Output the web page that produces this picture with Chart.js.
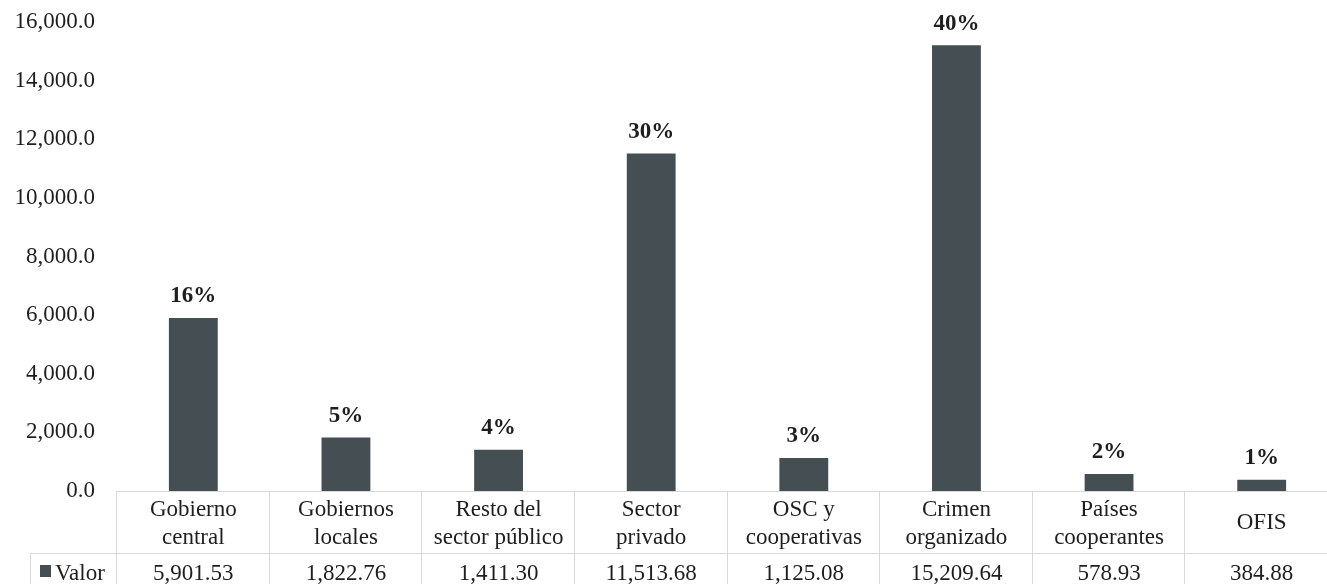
<!DOCTYPE html>
<html>
<head>
<meta charset="utf-8">
<script src="https://cdn.jsdelivr.net/npm/chart.js@4"></script>
<style>
  html, body { margin: 0; padding: 0; overflow: hidden; background: #fff; }
  #wrap { width: 1338px; height: 584px; }
</style>
</head>
<body>
<div id="wrap"><canvas id="chart"></canvas></div>
<script>
const categories = [
  ["Gobierno", "central"],
  ["Gobiernos", "locales"],
  ["Resto del", "sector público"],
  ["Sector", "privado"],
  ["OSC y", "cooperativas"],
  ["Crimen", "organizado"],
  ["Países", "cooperantes"],
  ["OFIS"],
];
const values = [5901.53, 1822.76, 1411.3, 11513.68, 1125.08, 15209.64, 578.93, 384.88];
const shares = ["16%", "5%", "4%", "30%", "3%", "40%", "2%", "1%"];
const seriesName = "Valor";

const barColor = "#444e53";
const textColor = "#1e1e1e";
const lineColor = "#d9d9d9";
const font = '"Liberation Serif", "Times New Roman", serif';

const fmt = (v, d) =>
  v.toLocaleString("en-US", { minimumFractionDigits: d, maximumFractionDigits: d });

const tablePlugin = {
  id: "dataTable",
  afterDraw(chart) {
    const ctx = chart.ctx;
    const area = chart.chartArea;
    const n = categories.length;
    const colW = (area.right - area.left) / n;
    const top = area.bottom;
    const row1 = top + 62;
    const h = chart.height;

    ctx.save();
    // percentage labels
    ctx.fillStyle = textColor;
    ctx.font = "bold 23px " + font;
    ctx.textAlign = "center";
    ctx.textBaseline = "bottom";
    chart.getDatasetMeta(0).data.forEach((bar, i) => {
      ctx.fillText(shares[i], bar.x, bar.y - 10);
    });

    // table grid
    ctx.strokeStyle = lineColor;
    ctx.lineWidth = 1;
    ctx.beginPath();
    ctx.moveTo(area.left - 1, top + 0.5);
    ctx.lineTo(area.right, top + 0.5);
    ctx.moveTo(30, row1 + 0.5);
    ctx.lineTo(area.right, row1 + 0.5);
    ctx.moveTo(30.5, row1);
    ctx.lineTo(30.5, h);
    for (let i = 0; i <= n; i++) {
      const x = Math.round(area.left + i * colW) - 0.5;
      ctx.moveTo(x, top);
      ctx.lineTo(x, h);
    }
    ctx.stroke();

    // table text
    ctx.font = "23px " + font;
    ctx.textBaseline = "middle";
    ctx.fillStyle = textColor;
    categories.forEach((lines, i) => {
      const cx = area.left + (i + 0.5) * colW;
      if (lines.length === 1) {
        ctx.fillText(lines[0], cx, top + 32);
      } else {
        ctx.fillText(lines[0], cx, top + 19);
        ctx.fillText(lines[1], cx, top + 47);
      }
      ctx.fillText(fmt(values[i], 2), cx, row1 + 21);
    });

    // legend key
    ctx.fillStyle = barColor;
    ctx.fillRect(40, row1 + 12, 11, 12);
    ctx.fillStyle = textColor;
    ctx.textAlign = "left";
    ctx.fillText(seriesName, 55, row1 + 21);
    ctx.restore();
  },
};

new Chart(document.getElementById("chart"), {
  type: "bar",
  data: {
    labels: categories,
    datasets: [
      {
        label: seriesName,
        data: values,
        backgroundColor: barColor,
        barPercentage: 0.32,
        categoryPercentage: 1,
      },
    ],
  },
  options: {
    responsive: true,
    maintainAspectRatio: false,
    animation: false,
    layout: { padding: { top: 22, bottom: 93, left: 0, right: 0 } },
    plugins: { legend: { display: false }, tooltip: { enabled: false } },
    scales: {
      x: { display: false },
      y: {
        min: 0,
        max: 16000,
        afterFit(scale) {
          scale.width = 117;
          scale.paddingTop = 0;
          scale.paddingBottom = 0;
        },
        grid: { display: false, drawTicks: false },
        border: { display: false },
        ticks: {
          stepSize: 2000,
          padding: 22,
          color: textColor,
          font: { family: font, size: 23 },
          callback: (v) => fmt(v, 1),
        },
      },
    },
  },
  plugins: [tablePlugin],
});
</script>
</body>
</html>
